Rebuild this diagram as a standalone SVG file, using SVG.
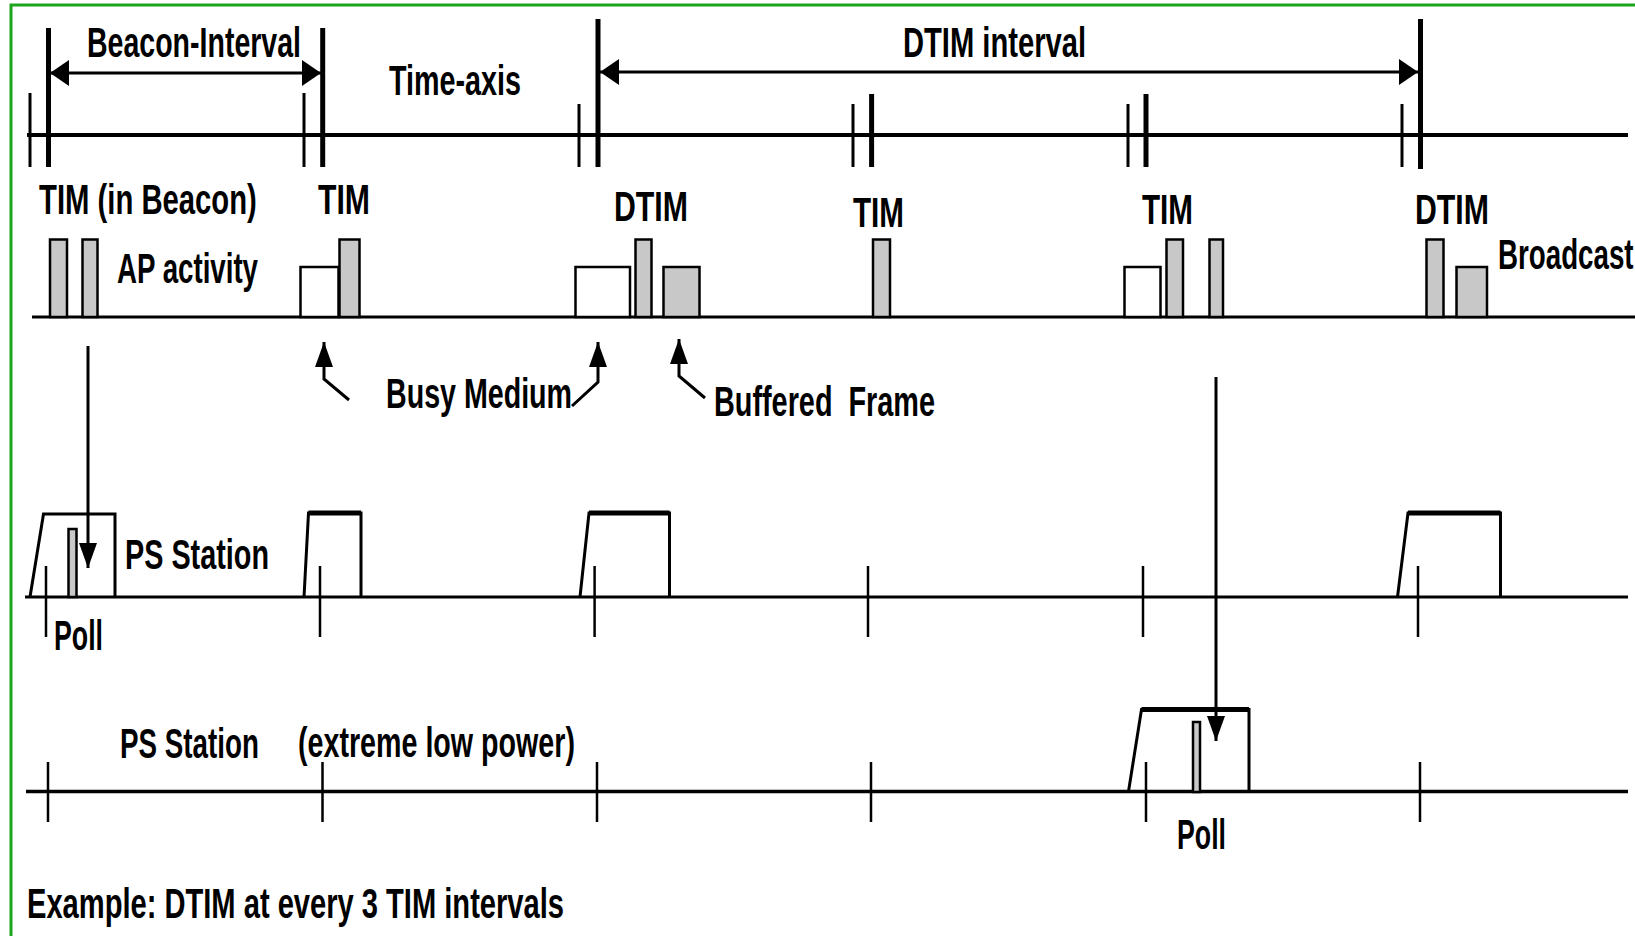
<svg xmlns="http://www.w3.org/2000/svg" width="1635" height="936" viewBox="0 0 1635 936">
<style>
text{font-family:"Liberation Sans",Arial,sans-serif;font-size:42px;font-weight:bold;fill:#000}
.ln{stroke:#000;fill:none}
.bar{fill:#c8c8c8;stroke:#000;stroke-width:2.5}
.box{fill:#fff;stroke:#000;stroke-width:2.5}
.tk1{stroke:#000;stroke-width:3}
.tk2{stroke:#000;stroke-width:5}
.st{stroke:#000;stroke-width:2.5}
.aw{fill:none;stroke:#000;stroke-width:3}
.awake{fill:none;stroke:#000;stroke-width:3;stroke-linejoin:miter}
</style>
<defs>
<marker id="ahI" viewBox="0 0 19 26" refX="19" refY="13" markerWidth="19" markerHeight="26" orient="auto-start-reverse" markerUnits="userSpaceOnUse"><path d="M0,0 L19,13 L0,26 z" fill="#000"/></marker>
<marker id="ahS" viewBox="0 0 25 18" refX="25" refY="9" markerWidth="25" markerHeight="18" orient="auto" markerUnits="userSpaceOnUse"><path d="M0,0 L25,9 L0,18 z" fill="#000"/></marker>
<marker id="ahL" viewBox="0 0 25 18" refX="25" refY="9" markerWidth="25" markerHeight="18" orient="auto" markerUnits="userSpaceOnUse"><path d="M0,0 L25,9 L0,18 z" fill="#000"/></marker>
</defs>
<rect x="0" y="0" width="1635" height="936" fill="#fff"/>
<path d="M11,936 V5 H1635" fill="none" stroke="#1ea51e" stroke-width="3"/>

<g id="time-axis">
<line class="ln" x1="27" y1="135" x2="1628" y2="135" stroke-width="4"/>
<line class="tk1" x1="30" y1="93" x2="30" y2="167"/>
<line class="tk1" x1="304" y1="93" x2="304" y2="167"/>
<line class="tk1" x1="579" y1="104" x2="579" y2="167"/>
<line class="tk1" x1="853" y1="104" x2="853" y2="167"/>
<line class="tk1" x1="1128" y1="104" x2="1128" y2="167"/>
<line class="tk1" x1="1402" y1="104" x2="1402" y2="167"/>
<line class="tk2" x1="48.5" y1="28" x2="48.5" y2="167"/>
<line class="tk2" x1="322.7" y1="28" x2="322.7" y2="167"/>
<line class="tk2" x1="598" y1="19" x2="598" y2="167"/>
<line class="tk2" x1="871.6" y1="94" x2="871.6" y2="167"/>
<line class="tk2" x1="1146" y1="94" x2="1146" y2="167"/>
<line class="tk2" x1="1420.5" y1="19" x2="1420.5" y2="169"/>
<text x="389" y="95" textLength="132" lengthAdjust="spacingAndGlyphs">Time-axis</text>
</g>

<g id="beacon-interval">
<text x="87" y="57" textLength="214" lengthAdjust="spacingAndGlyphs">Beacon-Interval</text>
</g>
<g id="dtim-interval">
<text x="903" y="57" textLength="183" lengthAdjust="spacingAndGlyphs">DTIM interval</text>
</g>

<g id="tim-labels">
<text transform="translate(39,214) scale(0.697,1)">TIM (in Beacon)</text>
<text x="318" y="214" textLength="52" lengthAdjust="spacingAndGlyphs">TIM</text>
<text x="614" y="221" textLength="74" lengthAdjust="spacingAndGlyphs">DTIM</text>
<text x="853" y="227" textLength="51" lengthAdjust="spacingAndGlyphs">TIM</text>
<text x="1142" y="224" textLength="51" lengthAdjust="spacingAndGlyphs">TIM</text>
<text x="1415" y="224" textLength="74" lengthAdjust="spacingAndGlyphs">DTIM</text>
</g>

<g id="ap-activity">
<line class="ln" x1="32" y1="317" x2="1635" y2="317" stroke-width="3"/>
<rect class="bar" x="50" y="239.5" width="17" height="77.5"/>
<rect class="bar" x="82.5" y="239.5" width="15" height="77.5"/>
<rect class="box" x="300.5" y="267" width="38" height="50"/>
<rect class="bar" x="339.5" y="239.5" width="20" height="77.5"/>
<rect class="box" x="575.5" y="267" width="54.5" height="50"/>
<rect class="bar" x="635.5" y="239.5" width="16" height="77.5"/>
<rect class="bar" x="663.5" y="267" width="36" height="50"/>
<rect class="bar" x="873" y="239.5" width="17" height="77.5"/>
<rect class="box" x="1124.5" y="267" width="36" height="50"/>
<rect class="bar" x="1166.5" y="239.5" width="16.5" height="77.5"/>
<rect class="bar" x="1209.5" y="239.5" width="13.5" height="77.5"/>
<rect class="bar" x="1426.5" y="239.5" width="17" height="77.5"/>
<rect class="bar" x="1456.5" y="267" width="30.5" height="50"/>
<text x="117" y="283" textLength="141" lengthAdjust="spacingAndGlyphs">AP activity</text>
<text transform="translate(1498,269) scale(0.66,1)">Broadcast</text>
</g>

<g id="annotations">
<text x="386" y="408" textLength="186" lengthAdjust="spacingAndGlyphs">Busy Medium</text>
<text x="714" y="416" textLength="221" lengthAdjust="spacingAndGlyphs" xml:space="preserve">Buffered  Frame</text>
</g>

<g id="ps-station">
<line class="ln" x1="25" y1="597" x2="1628" y2="597" stroke-width="3"/>
<line class="st" x1="46" y1="566" x2="46" y2="637"/>
<line class="st" x1="320" y1="566" x2="320" y2="637"/>
<line class="st" x1="594.6" y1="566" x2="594.6" y2="637"/>
<line class="st" x1="868" y1="566" x2="868" y2="637"/>
<line class="st" x1="1143" y1="566" x2="1143" y2="637"/>
<line class="st" x1="1418" y1="566" x2="1418" y2="637"/>
<path class="awake" d="M30,597 L43.5,514 L115,514 L115,597"/>
<path class="awake" d="M304,597 L308.5,513 L361,513 L361,597"/>
<line class="ln" x1="308.5" y1="513" x2="361" y2="513" stroke-width="5"/>
<path class="awake" d="M580,597 L589,513 L669.5,513 L669.5,597"/>
<line class="ln" x1="589" y1="513" x2="669.5" y2="513" stroke-width="5"/>
<path class="awake" d="M1397.5,597 L1408,513 L1500.5,513 L1500.5,597"/>
<line class="ln" x1="1408" y1="513" x2="1500.5" y2="513" stroke-width="5"/>
<rect class="bar" x="68.5" y="529" width="8" height="68" stroke-width="2"/>
<text x="125" y="569" textLength="144" lengthAdjust="spacingAndGlyphs">PS Station</text>
<text x="54" y="650" textLength="49" lengthAdjust="spacingAndGlyphs">Poll</text>
</g>

<g id="ps-station-low-power">
<line class="ln" x1="26" y1="791.5" x2="1628" y2="791.5" stroke-width="3.5"/>
<line class="st" x1="48" y1="762" x2="48" y2="822" stroke-width="2"/>
<line class="st" x1="322.5" y1="762" x2="322.5" y2="822" stroke-width="2"/>
<line class="st" x1="597" y1="762" x2="597" y2="822" stroke-width="2"/>
<line class="st" x1="871" y1="762" x2="871" y2="822" stroke-width="2"/>
<line class="st" x1="1146" y1="762" x2="1146" y2="822" stroke-width="2"/>
<line class="st" x1="1420" y1="762" x2="1420" y2="822" stroke-width="2"/>
<path class="awake" d="M1128.5,791.5 L1141.5,709.5 L1249,709.5 L1249,791.5"/>
<line class="ln" x1="1141.5" y1="709.5" x2="1249" y2="709.5" stroke-width="5"/>
<rect class="bar" x="1193" y="722" width="7" height="70" stroke-width="2"/>
<text transform="translate(120,758) scale(0.662,1)">PS Station</text>
<text x="298" y="757" textLength="277" lengthAdjust="spacingAndGlyphs">(extreme low power)</text>
<text x="1177" y="849" textLength="49" lengthAdjust="spacingAndGlyphs">Poll</text>
</g>

<g id="footer">
<text x="27" y="918" textLength="537" lengthAdjust="spacingAndGlyphs">Example: DTIM at every 3 TIM intervals</text>
</g>

<g id="connectors">
<line class="aw" x1="50" y1="73" x2="321" y2="73" marker-start="url(#ahI)" marker-end="url(#ahI)"/>
<line class="aw" x1="600" y1="72" x2="1418" y2="72" marker-start="url(#ahI)" marker-end="url(#ahI)"/>
<path class="aw" d="M349,400 L324,379 L324,342" marker-end="url(#ahS)"/>
<path class="aw" d="M572,406 L598,382 L598,342" marker-end="url(#ahS)"/>
<path class="aw" d="M705,398 L679,376 L679,339" marker-end="url(#ahS)"/>
<line class="aw" x1="88" y1="346" x2="88" y2="568" stroke-width="2.5" marker-end="url(#ahL)"/>
<line class="aw" x1="1216" y1="377" x2="1216" y2="741" stroke-width="2.5" marker-end="url(#ahL)"/>
</g>
</svg>
